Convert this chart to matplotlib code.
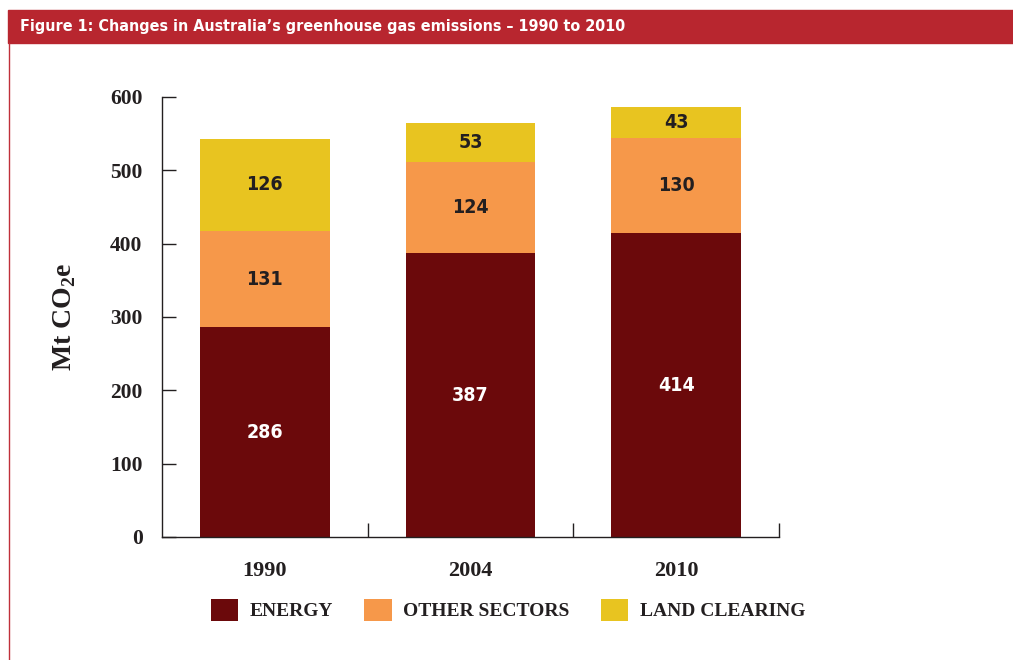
import matplotlib.pyplot as plt
from matplotlib.patches import Rectangle
from matplotlib.lines import Line2D
import numpy as np

plt.rcParams['mathtext.fontset'] = 'custom'
plt.rcParams['mathtext.rm'] = 'Liberation Serif:bold'
plt.rcParams['mathtext.bf'] = 'Liberation Serif:bold'

years = ['1990', '2004', '2010']
energy = [286, 387, 414]
other = [131, 124, 130]
land = [126, 53, 43]
series_names = ['ENERGY', 'OTHER SECTORS', 'LAND CLEARING']
colors = ['#6b090b', '#f6984a', '#e8c420']
label_colors = ['white', '#231f20', '#231f20']

dark = '#231f20'
serif = ['Liberation Serif', 'DejaVu Serif']
cond = dict(family='DejaVu Sans', fontstretch='condensed', fontweight='bold')

fig = plt.figure(figsize=(10.13, 6.6), dpi=100)

# red title bar and left frame line
fig.patches.append(Rectangle((8 / 1013, 1 - 43 / 660), 1 - 8 / 1013, 33 / 660,
                             transform=fig.transFigure, color='#b8262f', zorder=0))
fig.lines.append(Line2D([8.5 / 1013, 8.5 / 1013], [0, 1 - 43 / 660],
                        transform=fig.transFigure, color='#c0303a', lw=1))
fig.text(20 / 1013, 1 - 27 / 660,
         'Figure 1: Changes in Australia\u2019s greenhouse gas emissions \u2013 1990 to 2010',
         color='white', fontsize=11.5, va='center', ha='left', **cond)

ax = fig.add_axes([162 / 1013, 1 - 537 / 660, 617 / 1013, 440 / 660])

x = np.arange(len(years))
width = 0.63
bottom = np.zeros(len(years))
containers = []
for vals, col, lc in zip([energy, other, land], colors, label_colors):
    bars = ax.bar(x, vals, width, bottom=bottom, color=col, edgecolor='none')
    containers.append(bars)
    for xi, b, v in zip(x, bottom, vals):
        ax.text(xi, b + v / 2, str(v), ha='center', va='center', color=lc,
                fontsize=14, **cond)
    bottom = bottom + np.array(vals)

ax.set_xlim(-0.5, 2.5)
ax.set_ylim(0, 600)
ax.set_yticks(range(0, 601, 100))
ax.set_yticklabels([str(v) for v in range(0, 601, 100)], family=serif,
                   fontweight='bold', fontsize=15.5, color=dark)
ax.set_xticks([0.5, 1.5, 2.5])
ax.set_xticklabels([])
ax.set_xticks(x, minor=True)
ax.set_xticklabels(years, minor=True, family=serif, fontweight='bold',
                   fontsize=16, color=dark)
ax.tick_params(axis='y', direction='in', length=10, width=1, color=dark, pad=14)
ax.tick_params(axis='x', which='major', direction='in', length=10, width=1, color=dark)
ax.tick_params(axis='x', which='minor', length=0, pad=17)

for s in ['top', 'right']:
    ax.spines[s].set_visible(False)
for s in ['left', 'bottom']:
    ax.spines[s].set_color(dark)
    ax.spines[s].set_linewidth(1)

ax.set_ylabel('Mt CO$_2$e', family=serif, fontweight='bold', fontsize=20,
              color=dark, labelpad=23)

fig.legend([c[0] for c in containers], series_names, loc='center',
           bbox_to_anchor=(508 / 1013, 1 - 610 / 660), ncol=3, frameon=False,
           handlelength=1.4, handleheight=1.4, handletextpad=0.6,
           columnspacing=1.6,
           prop={'family': serif, 'weight': 'bold', 'size': 14})
for t in fig.legends[0].get_texts():
    t.set_color(dark)

fig.savefig('out.png', dpi=100)
